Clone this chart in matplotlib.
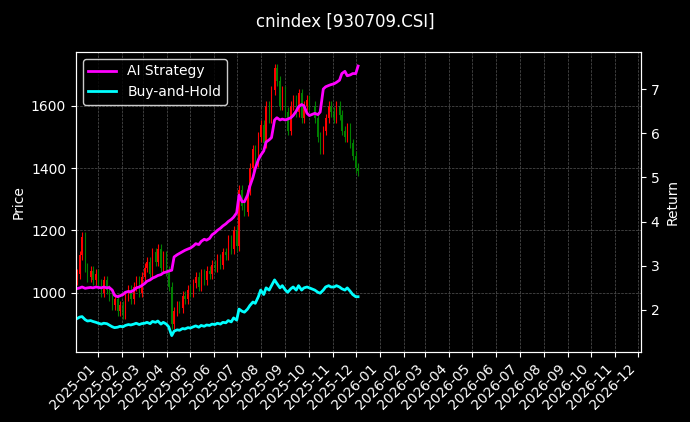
import matplotlib
matplotlib.use("Agg")
import matplotlib.pyplot as plt
import matplotlib.dates as mdates
import pandas as pd
import numpy as np

dates = [
 "2024-12-05","2024-12-09","2024-12-12","2024-12-16","2024-12-19","2024-12-23","2024-12-26","2024-12-30",
 "2025-01-02","2025-01-06","2025-01-09","2025-01-13","2025-01-16","2025-01-20","2025-01-23","2025-01-27","2025-01-30",
 "2025-02-03","2025-02-06","2025-02-10","2025-02-13","2025-02-17","2025-02-20","2025-02-24","2025-02-27",
 "2025-03-03","2025-03-06","2025-03-10","2025-03-13","2025-03-17","2025-03-20","2025-03-24","2025-03-27","2025-03-31",
 "2025-04-03","2025-04-07","2025-04-10","2025-04-14","2025-04-17","2025-04-21","2025-04-24","2025-04-28",
 "2025-05-01","2025-05-05","2025-05-08","2025-05-12","2025-05-15","2025-05-19","2025-05-22","2025-05-26","2025-05-29",
 "2025-06-02","2025-06-05","2025-06-09","2025-06-12","2025-06-16","2025-06-19","2025-06-23","2025-06-26","2025-06-30",
 "2025-07-03","2025-07-07","2025-07-10","2025-07-14","2025-07-17","2025-07-21","2025-07-24","2025-07-28","2025-07-31",
 "2025-08-04","2025-08-07","2025-08-11","2025-08-14","2025-08-18","2025-08-21","2025-08-25","2025-08-28",
 "2025-09-01","2025-09-04","2025-09-08","2025-09-11","2025-09-15","2025-09-18","2025-09-22","2025-09-25","2025-09-29",
 "2025-10-02","2025-10-09","2025-10-13","2025-10-16","2025-10-20","2025-10-23","2025-10-27","2025-10-30",
 "2025-11-03","2025-11-06","2025-11-10","2025-11-13","2025-11-17","2025-11-20","2025-11-24","2025-11-27",
 "2025-12-01","2025-12-04"]

close = [1060,1120,1180,1080,1050,1070,1040,1060,
 1030,1000,1040,1010,990,960,980,940,960,
 930,990,1010,980,1020,1040,1000,1050,
 1080,1100,1060,1130,1100,1140,1080,1120,1070,
 1020,900,940,960,950,990,980,1010,
 1000,1030,1050,1020,1060,1040,1070,1060,1090,
 1080,1110,1090,1130,1120,1170,1140,1200,1150,
 1330,1280,1260,1330,1400,1460,1420,1500,1540,
 1480,1600,1560,1650,1720,1680,1600,1650,
 1580,1520,1600,1620,1580,1640,1560,1600,1620,
 1600,1560,1500,1460,1520,1560,1600,1580,
 1560,1600,1570,1520,1500,1530,1480,1440,
 1400,1390]

ai_strategy = [2.48,2.50,2.52,2.49,2.50,2.51,2.50,2.52,
 2.51,2.50,2.52,2.50,2.51,2.45,2.33,2.30,2.32,
 2.35,2.40,2.42,2.41,2.45,2.50,2.52,2.55,
 2.60,2.65,2.68,2.72,2.75,2.78,2.80,2.84,2.86,
 2.88,2.90,3.20,3.25,3.28,3.32,3.35,3.38,
 3.40,3.45,3.50,3.48,3.55,3.60,3.58,3.62,3.70,
 3.75,3.80,3.85,3.90,3.95,4.00,4.05,4.10,4.20,
 4.60,4.45,4.45,4.60,4.80,5.00,5.20,5.40,5.50,
 5.60,5.80,5.85,5.90,6.30,6.35,6.30,6.32,
 6.30,6.32,6.35,6.40,6.50,6.60,6.65,6.62,6.45,
 6.40,6.45,6.42,6.48,7.00,7.05,7.08,7.10,
 7.12,7.15,7.20,7.35,7.40,7.30,7.32,7.35,
 7.35,7.52]

buy_hold = [1.80,1.84,1.85,1.78,1.75,1.76,1.74,1.72,
 1.70,1.68,1.70,1.69,1.66,1.62,1.60,1.61,1.63,
 1.62,1.65,1.67,1.66,1.68,1.70,1.67,1.69,
 1.70,1.72,1.69,1.74,1.72,1.75,1.68,1.72,1.68,
 1.62,1.42,1.52,1.55,1.54,1.58,1.57,1.60,
 1.59,1.62,1.64,1.61,1.65,1.63,1.66,1.65,1.68,
 1.67,1.70,1.68,1.72,1.71,1.76,1.73,1.82,1.77,
 2.02,1.97,1.95,2.02,2.10,2.18,2.15,2.30,2.45,
 2.35,2.50,2.45,2.55,2.68,2.60,2.50,2.55,
 2.45,2.40,2.48,2.52,2.45,2.55,2.45,2.50,2.52,
 2.50,2.45,2.40,2.38,2.45,2.52,2.55,2.52,
 2.52,2.55,2.52,2.48,2.45,2.50,2.42,2.35,
 2.30,2.30]

d = pd.to_datetime(dates)
c = np.array(close, float)
o = np.concatenate([[c[0] - 20], c[:-1]])
hi = np.maximum(o, c) + 15
lo = np.minimum(o, c) - 15
up = c >= o
cols = np.where(up, "red", "green")

plt.style.use("dark_background")
fig = plt.figure(figsize=(6.9, 4.22), dpi=100)
ax = fig.add_axes([0.110, 0.166, 0.819, 0.711])
ax.set_facecolor("black")
x = mdates.date2num(d)
ax.vlines(x, lo, hi, colors=cols, linewidth=0.8)
ax.bar(x, np.abs(c - o), bottom=np.minimum(o, c), width=1.6, color=cols)
ax.set_ylabel("Price")
ax.set_ylim(810, 1773)
ax.set_xlim(mdates.date2num(pd.Timestamp("2024-12-04")), mdates.date2num(pd.Timestamp("2026-12-05")))
ax.grid(True, linestyle="--", linewidth=0.5, color="#555555")
ax.xaxis.set_major_locator(mdates.MonthLocator())
ax.xaxis.set_major_formatter(mdates.DateFormatter("%Y-%m"))
plt.setp(ax.get_xticklabels(), rotation=45, ha="right")

ax2 = ax.twinx()
ax2.plot(d, ai_strategy, color="magenta", linewidth=2, label="AI Strategy")
ax2.plot(d, buy_hold, color="cyan", linewidth=2, label="Buy-and-Hold")
ax2.set_ylim(1.05, 7.84)
ax2.set_ylabel("Return")
leg = ax2.legend(loc="upper left", facecolor="black", edgecolor="white")
fig.suptitle("cnindex [930709.CSI]", y=0.97)
fig.savefig("out.png", dpi=100, facecolor="black")
